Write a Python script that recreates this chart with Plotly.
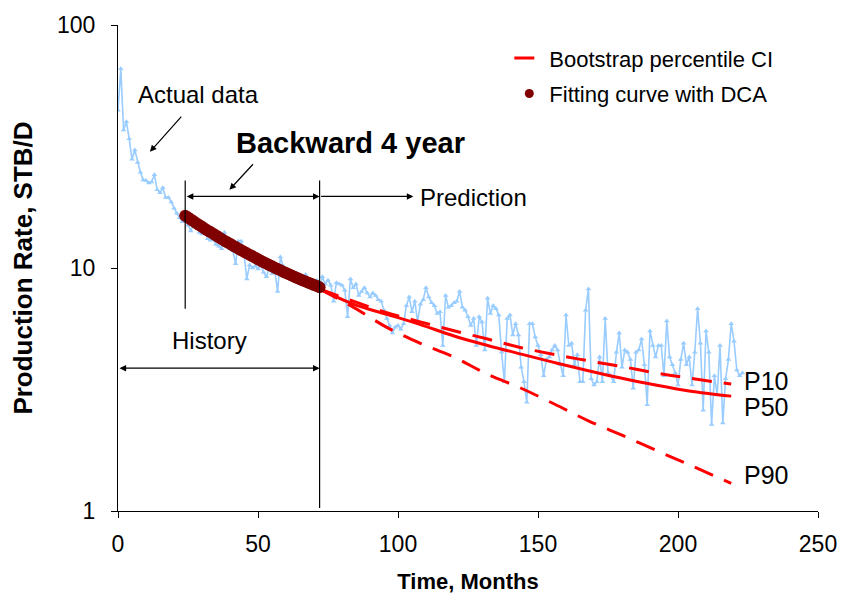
import numpy as np
import plotly.graph_objects as go

# Monthly production history (STB/D), months 0..223
actual_rate = [
    44.6, 66.0, 37.0, 40.0, 34.0, 28.0, 30.6, 27.2, 24.8, 23.0,
    22.9, 22.4, 22.6, 24.2, 21.0, 20.4, 21.4, 19.5, 19.5, 18.7,
    17.6, 16.8, 16.1, 15.5, 16.0, 15.0, 14.2, 15.3, 14.9, 14.0,
    13.8, 14.1, 13.2, 13.0, 13.1, 12.5, 12.3, 12.0, 14.0, 12.2,
    12.0, 11.8, 10.4, 12.9, 12.9, 11.5, 9.0, 10.3, 10.0, 10.2,
    9.9, 10.3, 9.6, 9.2, 10.0, 9.5, 9.8, 8.0, 11.1, 10.2,
    9.3, 9.6, 9.1, 8.9, 9.4, 8.8, 9.0, 9.4, 8.8, 8.5,
    8.6, 8.9, 8.2, 9.2, 8.6, 8.9, 8.5, 7.3, 8.7, 8.6,
    8.5, 8.1, 6.3, 9.0, 8.3, 8.6, 7.7, 8.0, 8.3, 7.9,
    7.6, 7.9, 7.7, 7.4, 7.3, 6.7, 6.2, 5.8, 5.4, 5.7,
    5.8, 5.6, 5.9, 7.0, 7.6, 6.6, 7.3, 6.0, 7.1, 7.4,
    8.3, 7.6, 7.2, 7.0, 6.5, 6.6, 4.8, 7.7, 6.9, 7.0,
    7.2, 7.3, 8.0, 6.9, 6.7, 6.3, 5.8, 6.2, 4.8, 6.3,
    6.0, 4.6, 7.5, 6.5, 7.0, 6.8, 6.4, 4.5, 3.4, 6.2,
    6.4, 5.3, 5.9, 5.3, 3.9, 3.4, 2.8, 5.9, 5.9, 5.2,
    4.8, 4.4, 3.6, 4.2, 4.3, 4.6, 4.8, 4.6, 4.0, 3.6,
    6.4, 4.8, 4.9, 4.0, 4.4, 3.4, 3.4, 6.7, 8.2, 3.5,
    3.3, 3.4, 4.3, 3.4, 6.2, 3.7, 3.6, 3.4, 4.5, 5.4,
    3.9, 4.6, 4.5, 4.2, 3.2, 4.5, 4.6, 5.1, 4.0, 2.74,
    5.5, 4.8, 4.3, 4.8, 4.8, 3.6, 6.05, 4.3, 4.0, 3.7,
    3.3, 4.2, 4.9, 4.0, 4.3, 3.3, 4.5, 6.8, 4.9, 2.6,
    5.5, 4.5, 2.27, 3.6, 3.0, 4.8, 2.3, 3.5, 4.2, 5.9,
    5.0, 3.8, 3.6, 3.7,
]
actual_month = list(range(len(actual_rate)))

# DCA fit over the 4-year backward window (months 24..72)
fit_month = list(range(24, 73))
fit_rate = [
    16.41, 16.12, 15.83, 15.56, 15.29, 15.03, 14.77, 14.52, 14.28, 14.05,
    13.82, 13.60, 13.38, 13.17, 12.96, 12.76, 12.57, 12.38, 12.19, 12.01,
    11.83, 11.66, 11.49, 11.33, 11.17, 11.01, 10.86, 10.71, 10.57, 10.43,
    10.29, 10.16, 10.03, 9.90, 9.78, 9.66, 9.54, 9.43, 9.31, 9.20,
    9.10, 8.99, 8.89, 8.80, 8.70, 8.61, 8.52, 8.43, 8.34,
]

# Bootstrap percentile forecasts
ci_month = [72, 84, 96, 108, 120, 132, 144, 156, 168, 180, 192, 204, 219]
p10_rate = [8.2, 7.3, 6.55, 6.0, 5.52, 5.1, 4.7, 4.4, 4.15, 3.93, 3.7, 3.52, 3.33]
p50_rate = [8.2, 7.1, 6.45, 5.85, 5.25, 4.8, 4.42, 4.08, 3.78, 3.52, 3.3, 3.12, 2.97]
p90_rate = [8.2, 6.9, 5.7, 4.9, 4.3, 3.65, 3.2, 2.75, 2.35, 2.05, 1.78, 1.55, 1.3]

FONT = "Liberation Sans, Arial, sans-serif"
RED = "#FF0000"
DASH = "20px,12px"

fig = go.Figure()

fig.add_trace(go.Scatter(
    x=actual_month, y=actual_rate, mode="lines+markers",
    line=dict(color="#99CCFF", width=1.6),
    marker=dict(symbol="triangle-up", size=5, color="#99CCFF"),
    showlegend=False, hoverinfo="skip",
))

fig.add_trace(go.Scatter(
    x=ci_month, y=p90_rate, mode="lines", line=dict(color=RED, width=3, dash=DASH, shape="spline"),
    showlegend=False,
))
fig.add_trace(go.Scatter(
    x=ci_month, y=p50_rate, mode="lines", line=dict(color=RED, width=3, shape="spline"),
    showlegend=False,
))
fig.add_trace(go.Scatter(
    x=ci_month, y=p10_rate, mode="lines", line=dict(color=RED, width=3, dash=DASH, shape="spline"),
    name="Bootstrap percentile CI", showlegend=True, legendrank=1, legendgroup="ci",
))

fig.add_trace(go.Scatter(
    x=fit_month, y=fit_rate, mode="markers",
    marker=dict(size=12, color="#800000"),
    showlegend=False,
))
# legend entry for the fitted curve (small dot)
fig.add_trace(go.Scatter(
    x=[None], y=[None], mode="markers", marker=dict(size=9, color="#800000"),
    name="Fitting curve with DCA", showlegend=True, legendrank=2, legendgroup="fit",
))

# window boundary lines
fig.add_trace(go.Scatter(x=[24, 24], y=[22.9, 6.8], mode="lines",
                         line=dict(color="black", width=1.2), showlegend=False))
fig.add_trace(go.Scatter(x=[72, 72], y=[22.9, 1.03], mode="lines",
                         line=dict(color="black", width=1.2), showlegend=False))

lg = np.log10
arrow_kw = dict(xref="x", yref="y", axref="x", ayref="y", text="", showarrow=True,
                arrowhead=2, arrowsize=1.1, arrowwidth=1.2, arrowcolor="black")
annotations = [
    dict(x=72, y=lg(19.7), ax=24, ay=lg(19.7), arrowside="end+start", startarrowhead=2,
         startarrowsize=1.1, **arrow_kw),
    dict(x=105.5, y=lg(19.7), ax=72, ay=lg(19.7), **arrow_kw),
    dict(x=72, y=lg(3.87), ax=0, ay=lg(3.87), arrowside="end+start", startarrowhead=2,
         startarrowsize=1.1, **arrow_kw),
    dict(x=11.4, y=1.478, ax=23.1, ay=1.629, **arrow_kw),
    dict(x=39.8, y=1.322, ax=48.7, ay=1.433, **arrow_kw),
]
text_kw = dict(xref="x", yref="y", showarrow=False, font=dict(family=FONT, size=24, color="black"))
p_kw = dict(xref="x", yref="y", showarrow=False, xanchor="left",
            font=dict(family=FONT, size=25, color="black"))
annotations += [
    dict(x=28.6, y=1.714, text="Actual data", **text_kw),
    dict(x=83.1, y=1.514, text="<b>Backward 4 year</b>", xref="x", yref="y", showarrow=False,
         font=dict(family=FONT, size=29, color="black")),
    dict(x=107.2, y=1.29, text="Prediction", xanchor="left", **text_kw),
    dict(x=32.5, y=0.702, text="History", **text_kw),
    dict(x=222.8, y=0.533, text="P10", **p_kw),
    dict(x=222.8, y=0.427, text="P50", **p_kw),
    dict(x=222.8, y=0.147, text="P90", **p_kw),
]

fig.update_layout(
    width=849, height=602,
    margin=dict(l=118, r=27, t=24, b=88),
    paper_bgcolor="white", plot_bgcolor="white",
    font=dict(family=FONT, size=22, color="black"),
    annotations=annotations,
    legend=dict(x=0.559, y=0.975, xanchor="left", yanchor="top",
                bgcolor="rgba(0,0,0,0)", font=dict(family=FONT, size=22),
                tracegroupgap=4),
    xaxis=dict(
        range=[0, 250], dtick=50, showgrid=False, zeroline=False,
        showline=True, linecolor="black", linewidth=1,
        ticks="outside", ticklen=6, tickcolor="black",
        ticklabelstandoff=6,
        tickfont=dict(family=FONT, size=23),
        title=dict(text="<b>Time, Months</b>", font=dict(family=FONT, size=22), standoff=18),
    ),
    yaxis=dict(
        type="log", range=[0, 2], tickvals=[1, 10, 100], ticktext=["1", "10", "100"],
        showgrid=False, zeroline=False,
        showline=True, linecolor="black", linewidth=1,
        ticks="outside", ticklen=6, tickcolor="black",
        ticklabelstandoff=11,
        tickfont=dict(family=FONT, size=23),
        title=dict(text="<b>Production Rate, STB/D</b>", font=dict(family=FONT, size=26), standoff=16),
    ),
)

fig.write_html("out.html")
